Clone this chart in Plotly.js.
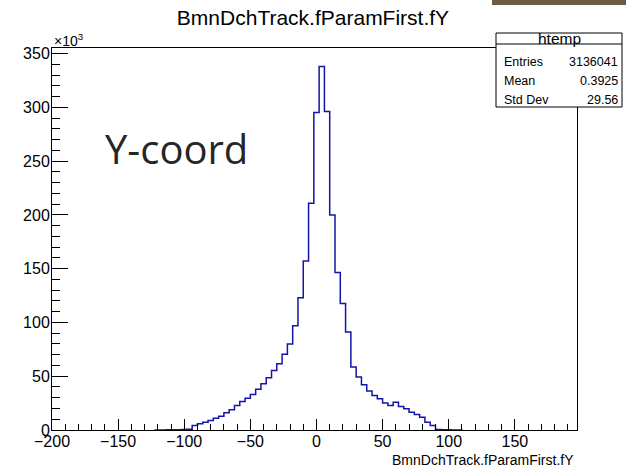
<!DOCTYPE html>
<html>
<head>
<meta charset="utf-8">
<script src="https://cdn.plot.ly/plotly-3.0.1.min.js"></script>
<style>
  html, body { margin: 0; padding: 0; background: #ffffff; }
  #chart { width: 626px; height: 469px; }
</style>
</head>
<body>
<div id="chart"></div>
<script>
// BmnDchTrack.fParamFirst.fY histogram: 4-unit bins, centres listed below
const binWidth = 4;
const binCenters = [
  -120, -116, -112, -108, -104, -100, -96, -92, -88, -84,
  -80, -76, -72, -68, -64, -60, -56, -52, -48, -44,
  -40, -36, -32, -28, -24, -20, -16, -12, -8, -4,
  0, 4, 8, 12, 16, 20, 24, 28, 32, 36,
  40, 44, 48, 52, 56, 60, 64, 68, 72, 76,
  80, 84, 88, 92, 96, 100, 104, 108
];
// entries per bin, in thousands (axis shows x10^3)
const countsK = [
  0.1, 0.1, 0.2, 0.2, 0.3, 0.4, 0.6, 4.2, 5.8, 7.3,
  8.9, 11.0, 12.9, 16.0, 18.8, 22.8, 26.6, 29.6, 33.0, 38.0,
  43.0, 48.6, 55.4, 61.7, 70.4, 80.0, 97.0, 123.0, 157.3, 210.8,
  295.3, 338.2, 296.2, 199.9, 146.5, 117.6, 91.2, 58.5, 49.2, 42.1,
  36.2, 32.2, 29.1, 25.0, 22.8, 25.9, 21.9, 19.7, 16.6, 14.4,
  11.9, 7.3, 4.2, 0.5, 0.3, 0.2, 0.1, 0.1
];
const xTickVals = [-200, -150, -100, -50, 0, 50, 100, 150];
const yTickVals = [0, 50, 100, 150, 200, 250, 300, 350];
const statsRows = [
  ["Entries", "3136041"],
  ["Mean", "0.3925"],
  ["Std Dev", "29.56"]
];

// outline of the histogram as a step line over the bin edges
const stepX = [binCenters[0] - binWidth / 2];
const stepY = [0];
binCenters.forEach((c, i) => { stepX.push(c - binWidth / 2); stepY.push(countsK[i]); });
const last = binCenters.length - 1;
stepX.push(binCenters[last] + binWidth / 2); stepY.push(countsK[last]);
stepX.push(binCenters[last] + binWidth / 2); stepY.push(0);

// frame geometry in pixels, used to place the stats box and labels
const W = 626, H = 469;
const fL = 52, fR = 577, fT = 48, fB = 430;
const px = x => (x - fL) / (fR - fL);
const py = y => (fB - y) / (fB - fT);

const font = "Liberation Sans, Arial, Helvetica, sans-serif";

const annotations = [
  { text: "×10<sup>3</sup>", xref: "paper", yref: "paper", x: px(52), y: py(40),
    xanchor: "left", yanchor: "middle", showarrow: false, font: { size: 14, color: "#000" } },
  { text: "Y-coord", xref: "paper", yref: "paper", x: px(176), y: py(148),
    xanchor: "center", yanchor: "middle", showarrow: false,
    font: { family: "Open Sans, sans-serif", size: 40, color: "#262626" } },
  { text: "BmnDchTrack.fParamFirst.fY", xref: "paper", yref: "paper", x: px(576), y: py(460),
    xanchor: "right", yanchor: "middle", showarrow: false, font: { size: 14, color: "#000" } },
  { text: "htemp", xref: "paper", yref: "paper", x: px(559), y: py(38.5),
    xanchor: "center", yanchor: "middle", showarrow: false, font: { size: 15.5, color: "#000" } }
];
const rowY = [61.5, 80.5, 99.5];
statsRows.forEach((r, i) => {
  annotations.push({ text: r[0], xref: "paper", yref: "paper", x: px(502), y: py(rowY[i]),
    xanchor: "left", yanchor: "middle", showarrow: false, font: { size: 12.5, color: "#000" } });
  annotations.push({ text: r[1], xref: "paper", yref: "paper", x: px(620), y: py(rowY[i]),
    xanchor: "right", yanchor: "middle", showarrow: false, font: { size: 12.5, color: "#000" } });
});

const shapes = [
  // stats box
  { type: "rect", xref: "paper", yref: "paper", x0: px(496), x1: px(622), y0: py(33), y1: py(107),
    line: { color: "#000", width: 1 }, fillcolor: "#ffffff", layer: "above" },
  { type: "line", xref: "paper", yref: "paper", x0: px(496), x1: px(622), y0: py(44), y1: py(44),
    line: { color: "#000", width: 1 }, layer: "above" },
  // dark strip at the top right corner
  { type: "rect", xref: "paper", yref: "paper", x0: px(492), x1: px(626), y0: py(0), y1: py(5),
    line: { width: 0 }, fillcolor: "#6b5c45", layer: "above" }
];

const trace = {
  type: "scatter", mode: "lines", x: stepX, y: stepY,
  line: { shape: "hv", color: "#1414a6", width: 1.5 },
  hoverinfo: "skip", showlegend: false
};

const layout = {
  width: W, height: H,
  margin: { l: fL, r: W - fR, t: fT, b: H - fB, pad: 0 },
  paper_bgcolor: "#ffffff", plot_bgcolor: "#ffffff",
  font: { family: font, color: "#000" },
  title: { text: "BmnDchTrack.fParamFirst.fY", x: 0.5, xanchor: "center", y: 1 - 18 / H, yanchor: "middle",
    font: { size: 21, color: "#000" } },
  xaxis: {
    range: [-200, 197], tickvals: xTickVals, ticks: "inside", ticklen: 11, tickwidth: 1, tickcolor: "#000",
    minor: { dtick: 10, ticks: "inside", ticklen: 6, tickwidth: 1, tickcolor: "#000" },
    showline: true, linecolor: "#000", linewidth: 1, mirror: true,
    showgrid: false, zeroline: false, tickfont: { size: 16 }, ticklabelstandoff: -3
  },
  yaxis: {
    range: [0, 355.3], tickvals: yTickVals, ticks: "inside", ticklen: 16, tickwidth: 1, tickcolor: "#000",
    minor: { dtick: 10, ticks: "inside", ticklen: 8, tickwidth: 1, tickcolor: "#000" },
    showline: true, linecolor: "#000", linewidth: 1, mirror: true,
    showgrid: false, zeroline: false, tickfont: { size: 16 }, ticklabelstandoff: -2
  },
  annotations: annotations,
  shapes: shapes
};

Plotly.newPlot("chart", [trace], layout, { staticPlot: true, displayModeBar: false });
</script>
</body>
</html>
